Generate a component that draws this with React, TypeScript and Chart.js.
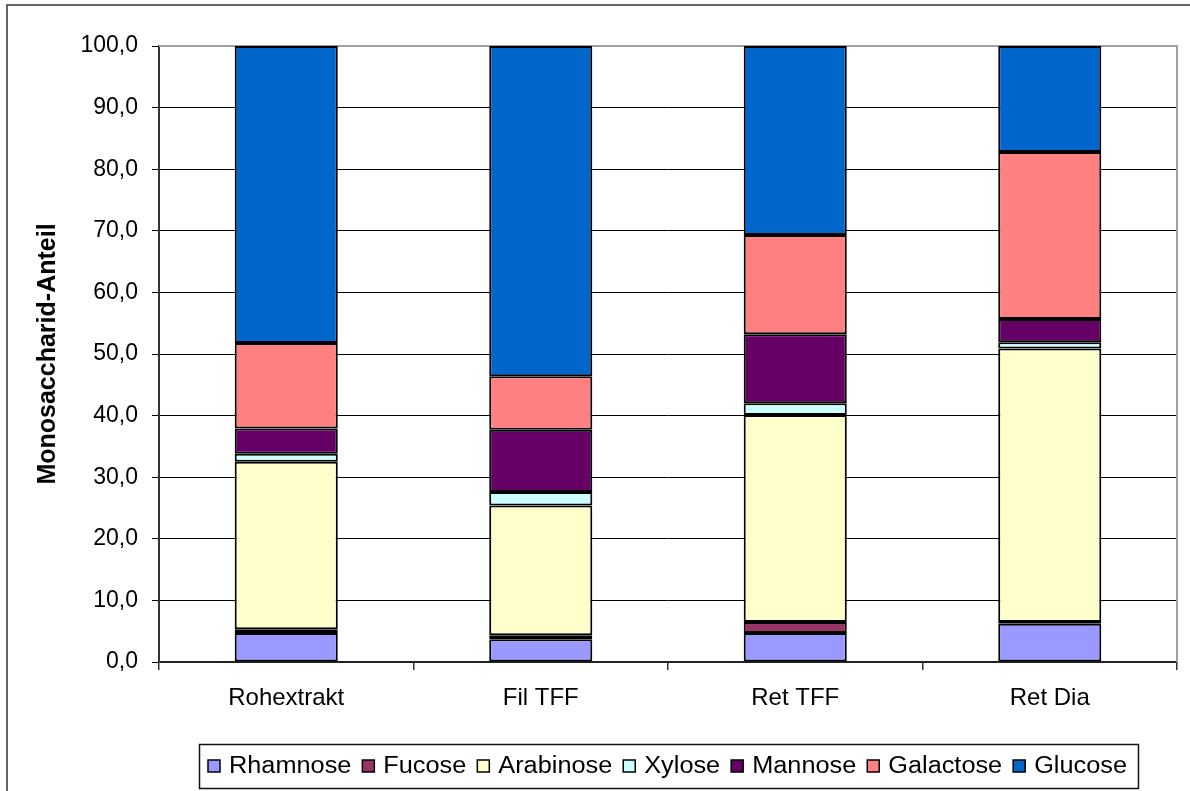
import React, { useEffect, useRef } from 'react';
import { Chart, registerables } from 'chart.js';

Chart.register(...registerables);

const categories = ['Rohextrakt', 'Fil TFF', 'Ret TFF', 'Ret Dia'];
const rhamnose = [4.7, 3.7, 4.7, 6.2];
const fucose = [0.6, 0.65, 1.8, 0.3];
const arabinose = [27.2, 21.05, 33.6, 44.4];
const xylose = [1.3, 2.2, 1.9, 1.0];
const mannose = [4.1, 10.1, 11.2, 3.8];
const galactose = [13.9, 8.7, 16.1, 27.1];
const glucose = [48.2, 53.6, 30.7, 17.2];
const seriesNames = ['Rhamnose', 'Fucose', 'Arabinose', 'Xylose', 'Mannose', 'Galactose', 'Glucose'];
const seriesColors = ['#9999FF', '#993366', '#FFFFCC', '#CCFFFF', '#660066', '#FF8080', '#0066CC'];
const yTickLabels = ['0,0', '10,0', '20,0', '30,0', '40,0', '50,0', '60,0', '70,0', '80,0', '90,0', '100,0'];
const yTitle = 'Monosaccharid-Anteil';

const FONT = "'Liberation Sans', Arial, sans-serif";

const framePlugin = {
  id: 'frame',
  beforeDatasetsDraw(chart: any) {
    const { ctx, chartArea } = chart;
    ctx.save();
    ctx.strokeStyle = '#a0a0a0';
    ctx.lineWidth = 2;
    ctx.beginPath();
    ctx.moveTo(chartArea.left, chartArea.top);
    ctx.lineTo(chartArea.right, chartArea.top);
    ctx.lineTo(chartArea.right, chartArea.bottom);
    ctx.stroke();
    ctx.restore();
  },
  afterDraw(chart: any) {
    const { ctx, width, height } = chart;
    ctx.save();
    ctx.strokeStyle = '#333';
    ctx.lineWidth = 1.5;
    ctx.beginPath();
    ctx.moveTo(width, 5);
    ctx.lineTo(7, 5);
    ctx.lineTo(7, height);
    ctx.stroke();
    ctx.restore();
  },
};

const legendPlugin = {
  id: 'boxLegend',
  afterDraw(chart: any) {
    const { ctx, chartArea } = chart;
    const fontSize = 23;
    const sx = 1.1;
    const marker = 12;
    const gapAfterMarker = 9;
    const gapAfterText = 11;
    const padL = 9;
    const padR = 11;
    ctx.save();
    ctx.font = `${fontSize}px ${FONT}`;
    const items = chart.data.datasets.map((d: any) => ({
      label: d.label,
      color: d.backgroundColor,
      w: ctx.measureText(d.label).width * sx,
    }));
    let total = 0;
    items.forEach((it: any, i: number) => {
      total += marker + gapAfterMarker + it.w + (i < items.length - 1 ? gapAfterText : 0);
    });
    const boxW = total + padL + padR;
    const cx = (chartArea.left + chartArea.right) / 2;
    const boxL = Math.round(cx - boxW / 2);
    const boxT = 744;
    const boxB = 788;
    const cy = (boxT + boxB) / 2;
    ctx.fillStyle = '#fff';
    ctx.fillRect(boxL, boxT, boxW, boxB - boxT);
    ctx.strokeStyle = '#111';
    ctx.lineWidth = 1.5;
    ctx.strokeRect(boxL + 0.5, boxT + 0.5, boxW, boxB - boxT);
    let x = boxL + padL;
    items.forEach((it: any) => {
      ctx.fillStyle = it.color;
      ctx.fillRect(x, cy - marker / 2, marker, marker);
      ctx.strokeStyle = '#000';
      ctx.lineWidth = 1.5;
      ctx.strokeRect(x, cy - marker / 2, marker, marker);
      x += marker + gapAfterMarker;
      ctx.fillStyle = '#000';
      ctx.textBaseline = 'middle';
      ctx.textAlign = 'left';
      ctx.save();
      ctx.translate(x, cy + 1);
      ctx.scale(sx, 1);
      ctx.fillText(it.label, 0, 0);
      ctx.restore();
      x += it.w + gapAfterText;
    });
    ctx.restore();
  },
};

export default function App() {
  const ref = useRef<HTMLCanvasElement>(null);
  useEffect(() => {
    const seriesData = [rhamnose, fucose, arabinose, xylose, mannose, galactose, glucose];
    const chart = new Chart(ref.current as HTMLCanvasElement, {
      type: 'bar',
      data: {
        labels: categories,
        datasets: seriesNames.map((name, i) => ({
          label: name,
          data: seriesData[i],
          backgroundColor: seriesColors[i],
          borderColor: '#000',
          borderWidth: 2,
          borderSkipped: false,
          barPercentage: 0.405,
          categoryPercentage: 1,
        })),
      },
      options: {
        animation: false,
        responsive: false,
        devicePixelRatio: 1,
        layout: { padding: { left: 0, top: 46, right: 13, bottom: 0 } },
        plugins: {
          legend: { display: false },
          tooltip: { enabled: false },
        },
        scales: {
          x: {
            stacked: true,
            offset: true,
            afterFit: (s: any) => { s.height = 129; },
            grid: {
              offset: true,
              drawOnChartArea: false,
              drawTicks: true,
              tickLength: 8,
              color: '#333',
              lineWidth: 1.5,
            },
            border: { display: true, color: '#222', width: 2 },
            ticks: {
              color: '#000',
              padding: 14,
              font: { family: FONT, size: 24 },
              maxRotation: 0,
            },
          },
          y: {
            stacked: true,
            min: 0,
            max: 100,
            afterFit: (s: any) => { s.width = 159; },
            grid: {
              color: '#000',
              lineWidth: 1,
              drawTicks: true,
              tickLength: 7,
            },
            border: { display: true, color: '#333', width: 2 },
            ticks: {
              stepSize: 10,
              color: '#000',
              padding: 14,
              font: { family: FONT, size: 23 },
              callback: (_v: any, i: number) => yTickLabels[i],
            },
            title: {
              display: true,
              text: yTitle,
              color: '#000',
              font: { family: FONT, size: 25, weight: 'bold' },
              padding: { top: 33, bottom: 0 },
            },
          },
        },
      },
      plugins: [framePlugin, legendPlugin],
    } as any);
    return () => chart.destroy();
  }, []);
  return (
    <div style={{ position: 'fixed', left: 0, top: 0, width: 1190, height: 791, background: '#fff' }}>
      <canvas ref={ref} width={1190} height={791} style={{ width: 1190, height: 791, display: 'block' }} />
    </div>
  );
}
